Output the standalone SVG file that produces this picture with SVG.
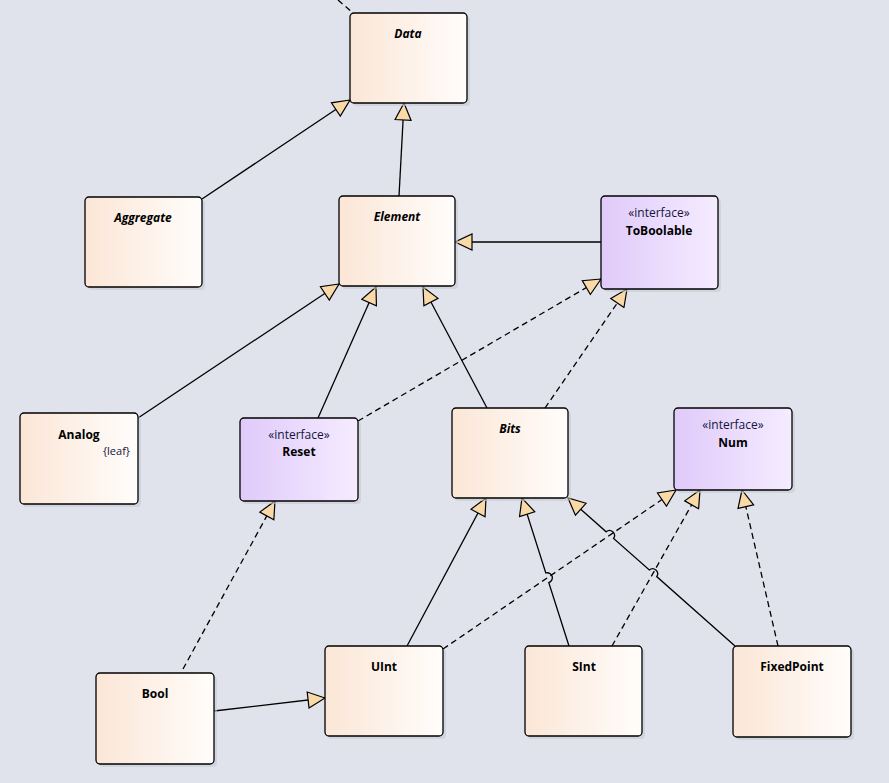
<svg xmlns="http://www.w3.org/2000/svg" width="889" height="783" viewBox="0 0 889 783">
<defs>
<linearGradient id="gCls" x1="0" y1="0" x2="1" y2="0">
<stop offset="0" stop-color="#FBE6D6"/>
<stop offset="1" stop-color="#FFFDFB"/>
</linearGradient>
<linearGradient id="gIf" x1="0" y1="0" x2="1" y2="0">
<stop offset="0" stop-color="#E0CAFA"/>
<stop offset="1" stop-color="#F5ECFF"/>
</linearGradient>
<marker id="tri" viewBox="-19 -9 20 18" refX="0" refY="0" markerWidth="20" markerHeight="18" markerUnits="userSpaceOnUse" orient="auto">
<path d="M0,0 L-17,-8 L-17,8 Z" fill="#F9D9A8" stroke="#000" stroke-width="1.2" stroke-linejoin="miter"/>
</marker>
<style>
.sh{fill:#C5C9D3;opacity:0.6}
.cls{fill:url(#gCls);stroke:#000;stroke-width:1.3}
.if{fill:url(#gIf);stroke:#000;stroke-width:1.3}
.t{font-family:"Open Sans","Noto Sans","Liberation Sans",sans-serif;font-size:12px;font-weight:bold;fill:#000;text-anchor:middle}
.ti{font-style:italic}
.st{font-family:"Open Sans","Noto Sans","Liberation Sans",sans-serif;font-size:12px;fill:#14143C;text-anchor:middle}
.lf{font-family:"Open Sans","Noto Sans","Liberation Sans",sans-serif;font-size:11px;fill:#14143C;text-anchor:end}
.c{fill:none;stroke:#000;stroke-width:1.3}
.d{stroke-dasharray:6 4}
.a{marker-end:url(#tri)}
</style>
</defs>
<rect width="889" height="783" fill="#E0E3EC"/>
<g id="connectors">
<path class="c d" d="M338,0 L352,12"/>
<path class="c a" d="M202,199 L350,100"/>
<path class="c a" d="M399,196 L404,103"/>
<path class="c a" d="M601,242 L455,242"/>
<path class="c a" d="M138,418 L339,284"/>
<path class="c a" d="M318,418 L376,287"/>
<path class="c a" d="M487,408 L423,287"/>
<path class="c d a" d="M358,421 L601,279"/>
<path class="c d a" d="M545,408 L627,289"/>
<path class="c d a" d="M183,669 L275,501"/>
<path class="c a" d="M214,711 L325,698"/>
<path class="c a" d="M407,646 L486,498"/>
<path class="c d a" d="M443,649 L676,490"/>
<path class="c a" d="M569,646 L548.8,582.6 A5,5 0 0 0 545.8,573 L522,498"/>
<path class="c d a" d="M612,646 L700,490"/>
<path class="c a" d="M735,646 L656.7,576.6 A5,5 0 0 0 649.3,570 L613.6,538.4 A5,5 0 0 0 606.2,531.8 L568,498"/>
<path class="c d a" d="M778,646 L742,490"/>
</g>
<g id="Data">
<rect class="sh" x="353" y="16" width="117" height="90" rx="4"/>
<rect class="cls" x="350" y="13" width="117" height="90" rx="4"/>
<text class="t ti" x="408" y="38">Data</text>
</g>
<g id="Aggregate">
<rect class="sh" x="88" y="200" width="117" height="90" rx="4"/>
<rect class="cls" x="85" y="197" width="117" height="90" rx="4"/>
<text class="t ti" x="143" y="222">Aggregate</text>
</g>
<g id="Element">
<rect class="sh" x="342" y="199" width="116" height="90" rx="4"/>
<rect class="cls" x="339" y="196" width="116" height="90" rx="4"/>
<text class="t ti" x="397" y="221">Element</text>
</g>
<g id="ToBoolable">
<rect class="sh" x="604" y="199" width="117" height="93" rx="4"/>
<rect class="if" x="601" y="196" width="117" height="93" rx="4"/>
<text class="st" x="659" y="217">«interface»</text>
<text class="t" x="659" y="235">ToBoolable</text>
</g>
<g id="Analog">
<rect class="sh" x="23" y="416" width="118" height="91" rx="4"/>
<rect class="cls" x="20" y="413" width="118" height="91" rx="4"/>
<text class="t" x="79" y="439">Analog</text>
<text class="lf" x="130" y="455">{leaf}</text>
</g>
<g id="Reset">
<rect class="sh" x="243" y="421" width="118" height="83" rx="4"/>
<rect class="if" x="240" y="418" width="118" height="83" rx="4"/>
<text class="st" x="299" y="439">«interface»</text>
<text class="t" x="299" y="456">Reset</text>
</g>
<g id="Bits">
<rect class="sh" x="455" y="411" width="116" height="90" rx="4"/>
<rect class="cls" x="452" y="408" width="116" height="90" rx="4"/>
<text class="t ti" x="510" y="433">Bits</text>
</g>
<g id="Num">
<rect class="sh" x="677" y="411" width="118" height="82" rx="4"/>
<rect class="if" x="674" y="408" width="118" height="82" rx="4"/>
<text class="st" x="733" y="429">«interface»</text>
<text class="t" x="733" y="447">Num</text>
</g>
<g id="Bool">
<rect class="sh" x="99" y="676" width="118" height="91" rx="4"/>
<rect class="cls" x="96" y="673" width="118" height="91" rx="4"/>
<text class="t" x="155" y="698">Bool</text>
</g>
<g id="UInt">
<rect class="sh" x="328" y="649" width="118" height="90" rx="4"/>
<rect class="cls" x="325" y="646" width="118" height="90" rx="4"/>
<text class="t" x="384" y="671">UInt</text>
</g>
<g id="SInt">
<rect class="sh" x="528" y="649" width="117" height="90" rx="4"/>
<rect class="cls" x="525" y="646" width="117" height="90" rx="4"/>
<text class="t" x="584" y="671">SInt</text>
</g>
<g id="FixedPoint">
<rect class="sh" x="736" y="649" width="118" height="91" rx="4"/>
<rect class="cls" x="733" y="646" width="118" height="91" rx="4"/>
<text class="t" x="792" y="671">FixedPoint</text>
</g>
</svg>
